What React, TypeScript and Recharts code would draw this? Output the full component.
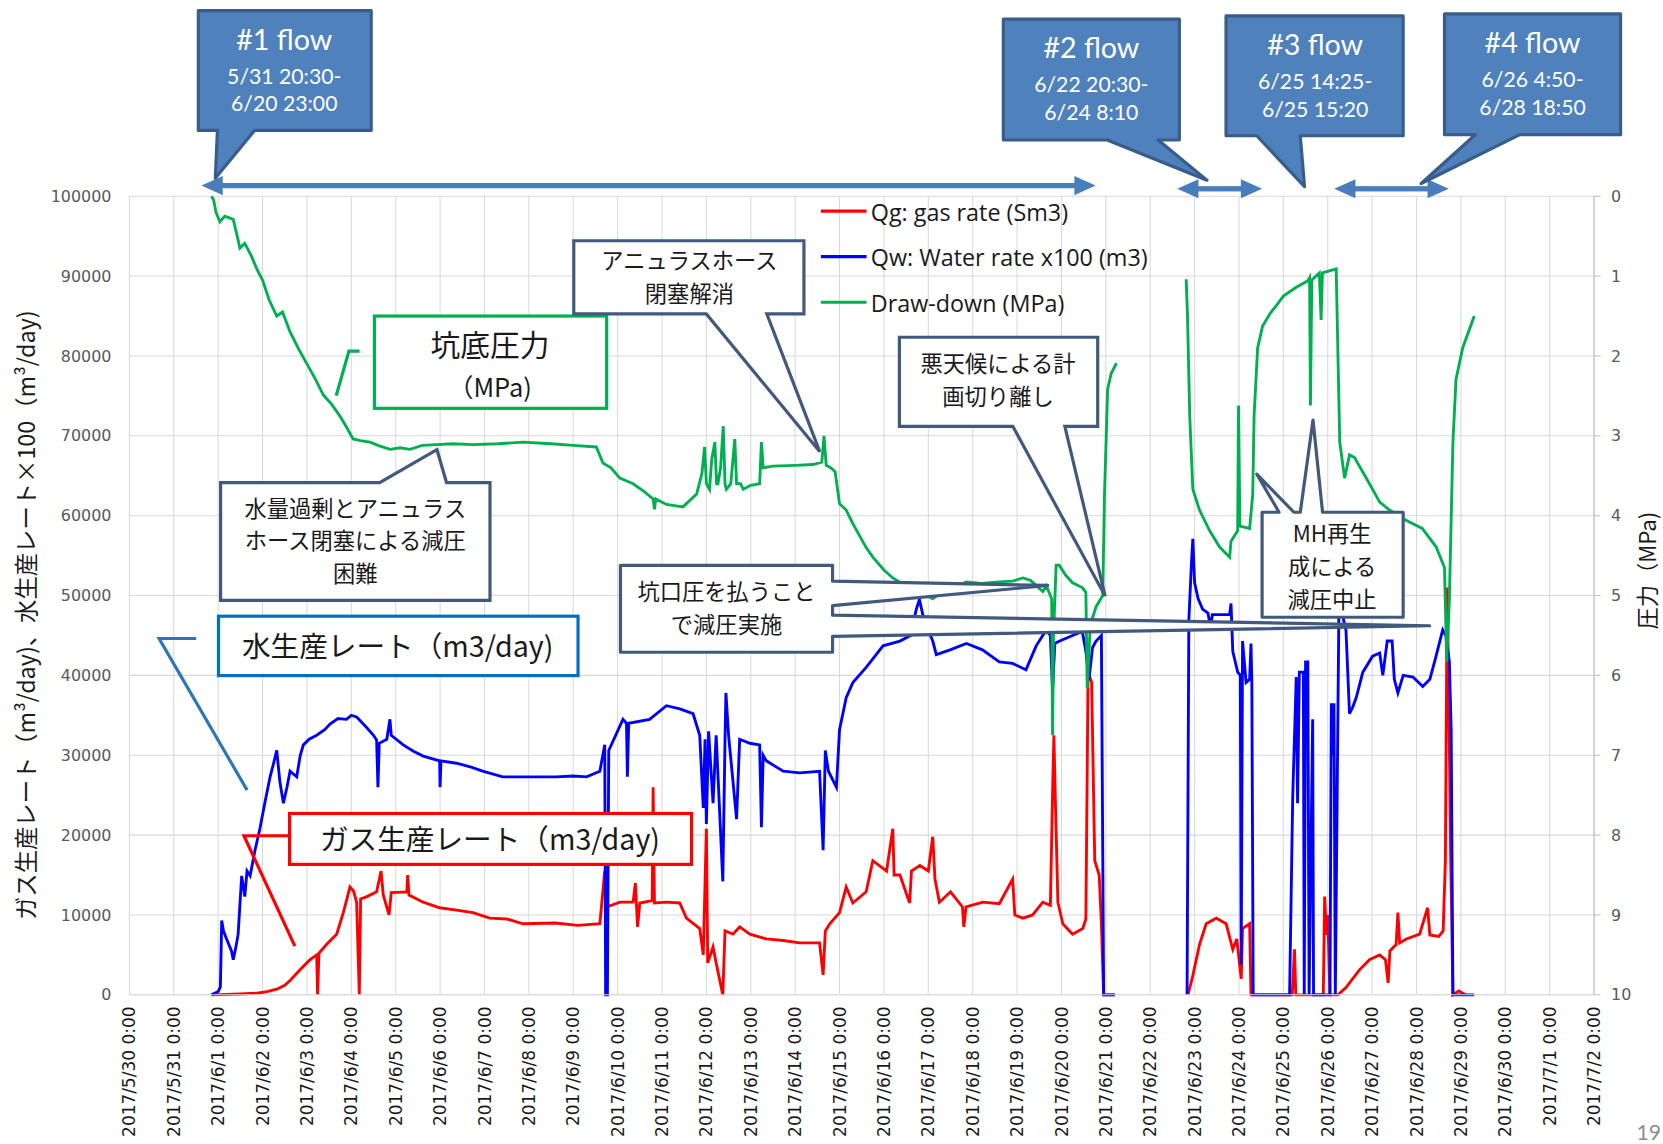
import React from 'react';
import { LineChart, Line, XAxis, YAxis, CartesianGrid, Legend } from 'recharts';

// day 0 = 2017/5/30 0:00
const dateLabels = [
  '2017/5/30 0:00', '2017/5/31 0:00', '2017/6/1 0:00', '2017/6/2 0:00', '2017/6/3 0:00',
  '2017/6/4 0:00', '2017/6/5 0:00', '2017/6/6 0:00', '2017/6/7 0:00', '2017/6/8 0:00',
  '2017/6/9 0:00', '2017/6/10 0:00', '2017/6/11 0:00', '2017/6/12 0:00', '2017/6/13 0:00',
  '2017/6/14 0:00', '2017/6/15 0:00', '2017/6/16 0:00', '2017/6/17 0:00', '2017/6/18 0:00',
  '2017/6/19 0:00', '2017/6/20 0:00', '2017/6/21 0:00', '2017/6/22 0:00', '2017/6/23 0:00',
  '2017/6/24 0:00', '2017/6/25 0:00', '2017/6/26 0:00', '2017/6/27 0:00', '2017/6/28 0:00',
  '2017/6/29 0:00', '2017/6/30 0:00', '2017/7/1 0:00', '2017/7/2 0:00',
];
const dayTicks = dateLabels.map((_, i) => i);
const rateTicks = [0, 10000, 20000, 30000, 40000, 50000, 60000, 70000, 80000, 90000, 100000];
const mpaTicks = [0, 1, 2, 3, 4, 5, 6, 7, 8, 9, 10];

// Qg: gas rate (Sm3) — [day, value]
const gasRate: [number, number | null][] = [
  [1.85, 0], [2.5, 100], [2.87, 200], [3.1, 400], [3.32, 700], [3.5, 1200], [3.62, 1800], [3.84, 3100],
  [4.07, 4400], [4.22, 5000], [4.24, 0], [4.27, 5200], [4.44, 6300], [4.67, 7600], [4.82, 10300],
  [4.97, 13500], [5.05, 13000], [5.12, 11600], [5.18, 0], [5.21, 12000], [5.35, 12300], [5.57, 12900],
  [5.67, 15500], [5.72, 12500], [5.85, 10000], [5.9, 12800], [6.25, 12900], [6.27, 15000], [6.3, 12500],
  [6.62, 11600], [6.99, 10900], [7.37, 10600], [7.74, 10300], [8.12, 9600], [8.5, 9500], [8.87, 8900],
  [9.6, 9000], [10.1, 8700], [10.6, 8900], [10.71, 15500], [10.75, 11000], [11.05, 11600], [11.35, 11600],
  [11.4, 14000], [11.45, 8500], [11.5, 11500], [11.78, 11800], [11.8, 26000], [11.83, 11500], [12.1, 11600],
  [12.4, 11500], [12.55, 9600], [12.85, 8300], [12.93, 5000], [13.0, 20800], [13.03, 4000], [13.15, 6000],
  [13.22, 4000], [13.37, 0], [13.42, 8000], [13.6, 7600], [13.75, 8500], [13.98, 7600], [14.35, 7000],
  [14.73, 6800], [15.1, 6500], [15.55, 6500], [15.63, 2500], [15.68, 8000], [15.78, 8900], [16.0, 10300],
  [16.15, 13500], [16.3, 11500], [16.6, 12900], [16.75, 16800], [17.06, 15500], [17.2, 20800], [17.23, 15000],
  [17.36, 15000], [17.58, 11500], [17.62, 15500], [17.81, 16200], [18.0, 15500], [18.1, 19800], [18.15, 14500],
  [18.25, 11600], [18.5, 12900], [18.77, 11000], [18.8, 8500], [18.85, 11000], [19.23, 11600], [19.6, 11400],
  [19.9, 14500], [19.95, 10000], [20.13, 9600], [20.35, 10000], [20.58, 11600], [20.75, 11200], [20.81, 28000],
  [20.83, 32500], [20.86, 25000], [20.92, 11600], [21.03, 8900], [21.25, 7600], [21.48, 8300], [21.55, 9500],
  [21.6, 40400], [21.68, 39100], [21.75, 16800], [21.85, 15000], [21.9, 8900], [21.95, 0], [22.2, 0],
  [22.6, null],
  [23.85, 0], [23.96, 2400], [24.11, 6300], [24.26, 8900], [24.49, 9600], [24.71, 8900], [24.86, 5700],
  [24.95, 7000], [25.05, 2000], [25.08, 8300], [25.24, 8900], [25.27, 0], [26.2, 0], [26.25, 5700],
  [26.28, 0], [26.9, 0], [26.93, 12300], [26.97, 7500], [27.0, 10000], [27.05, 0], [27.23, 0], [27.41, 900],
  [27.71, 3100], [27.94, 4400], [28.17, 5000], [28.3, 4400], [28.36, 1500], [28.4, 5500], [28.54, 6300],
  [28.58, 10300], [28.62, 6500], [28.77, 7000], [29.07, 7600], [29.25, 10900], [29.3, 7500], [29.5, 7300],
  [29.6, 8000], [29.65, 16800], [29.69, 51000], [29.72, 40400], [29.77, 17000], [29.82, 0], [29.95, 500], [30.1, 0],
];

// Qw: Water rate x100 (m3) — [day, value]
const waterRate: [number, number | null][] = [
  [1.85, 0], [2.0, 400], [2.05, 1000], [2.08, 9300], [2.12, 8000], [2.19, 7000], [2.3, 5500], [2.34, 4400],
  [2.4, 6000], [2.45, 7600], [2.53, 14900], [2.6, 12300], [2.65, 15500], [2.72, 14900], [2.83, 18100],
  [2.94, 20800], [3.05, 24000], [3.17, 27300], [3.25, 29000], [3.32, 30600], [3.39, 26700], [3.47, 24000],
  [3.55, 26000], [3.62, 28000], [3.77, 27300], [3.85, 30000], [3.92, 31300], [4.05, 32000], [4.22, 32500],
  [4.4, 33200], [4.52, 33900], [4.7, 34600], [4.89, 34500], [5.0, 35000], [5.12, 34800], [5.34, 33500],
  [5.5, 32500], [5.57, 31900], [5.6, 26000], [5.63, 31500], [5.8, 32000], [5.87, 34500], [5.9, 32500],
  [6.17, 31300], [6.4, 30500], [6.62, 29900], [6.99, 29300], [7.0, 26000], [7.02, 29300], [7.37, 29000],
  [7.7, 28500], [7.96, 28000], [8.41, 27300], [8.87, 27300], [9.3, 27300], [9.62, 27300], [10.0, 27400],
  [10.3, 27300], [10.6, 28000], [10.71, 31300], [10.73, 0], [10.77, 0], [10.8, 30600], [11.12, 34500],
  [11.2, 34000], [11.22, 27300], [11.25, 34000], [11.72, 34500], [12.1, 36200], [12.4, 35800], [12.7, 35200],
  [12.85, 32500], [12.93, 23400], [12.97, 32000], [13.0, 21400], [13.05, 33000], [13.15, 24000], [13.22, 32500],
  [13.37, 14200], [13.42, 32000], [13.44, 37800], [13.5, 32500], [13.68, 22000], [13.75, 32000], [13.98, 31500],
  [14.2, 31300], [14.24, 21000], [14.28, 30000], [14.35, 29300], [14.73, 28000], [15.1, 27800], [15.55, 28000],
  [15.63, 18100], [15.68, 30600], [15.75, 28000], [15.93, 26000], [16.0, 33200], [16.15, 37200], [16.3, 39100],
  [16.6, 41000], [16.98, 43700], [17.36, 44300], [17.6, 45000], [17.73, 48300], [17.8, 49500], [17.9, 47000],
  [18.1, 44300], [18.18, 42600], [18.49, 43200], [18.86, 44000], [19.22, 43200], [19.6, 41700], [19.9, 41500],
  [20.2, 40700], [20.43, 43700], [20.66, 45700], [20.75, 45000], [20.8, 38000], [20.85, 44000], [20.96, 44300],
  [21.25, 45000], [21.47, 45500], [21.55, 43000], [21.62, 39500], [21.7, 43500], [21.78, 44300], [21.9, 45000],
  [21.95, 0], [22.2, 0],
  [22.6, null],
  [23.83, 0], [23.87, 46900], [23.93, 54200], [23.96, 57100], [24.0, 51600], [24.08, 49600], [24.18, 48300],
  [24.3, 47800], [24.36, 46000], [24.4, 47600], [24.79, 47600], [24.82, 49000], [24.86, 43000], [24.97, 40400],
  [25.03, 40000], [25.05, 3800], [25.08, 44300], [25.16, 39100], [25.24, 39500], [25.27, 44000], [25.29, 39000],
  [25.32, 0], [26.14, 0], [26.21, 24700], [26.29, 39800], [26.32, 24000], [26.36, 40400], [26.45, 40400],
  [26.47, 0], [26.5, 41700], [26.55, 41700], [26.58, 0], [26.66, 34500], [26.68, 0], [27.05, 0], [27.08, 36500],
  [27.11, 30000], [27.14, 36500], [27.17, 0], [27.25, 47600], [27.33, 47600], [27.41, 45700], [27.49, 35200],
  [27.56, 36000], [27.64, 37200], [27.79, 40400], [28.01, 42400], [28.17, 42800], [28.24, 40000], [28.34, 44300],
  [28.45, 44300], [28.5, 39500], [28.58, 37800], [28.7, 40000], [28.92, 39800], [29.14, 38600], [29.3, 39500],
  [29.44, 42400], [29.59, 45700], [29.66, 45000], [29.74, 41700], [29.78, 33200], [29.82, 0], [30.3, 0],
];

// Draw-down (MPa) on the right axis — [day, MPa]
const drawDown: [number, number | null][] = [
  [1.85, 0.0], [1.9, 0.05], [1.95, 0.2], [2.04, 0.32], [2.15, 0.25], [2.34, 0.29], [2.45, 0.55], [2.49, 0.65],
  [2.6, 0.59], [2.75, 0.75], [2.87, 0.91], [3.0, 1.05], [3.15, 1.3], [3.32, 1.5], [3.45, 1.45], [3.62, 1.7],
  [3.8, 1.9], [3.99, 2.09], [4.2, 2.3], [4.37, 2.49], [4.55, 2.6], [4.74, 2.75], [4.9, 2.9], [5.04, 3.04],
  [5.2, 3.06], [5.42, 3.08], [5.6, 3.12], [5.87, 3.17], [6.1, 3.15], [6.32, 3.17], [6.6, 3.12], [6.92, 3.11],
  [7.3, 3.1], [7.74, 3.11], [8.3, 3.1], [8.87, 3.08], [9.5, 3.1], [10.0, 3.12], [10.52, 3.14], [10.67, 3.34],
  [10.85, 3.4], [11.05, 3.53], [11.35, 3.6], [11.6, 3.7], [11.8, 3.79], [11.83, 3.92], [11.86, 3.79],
  [12.1, 3.86], [12.47, 3.89], [12.78, 3.73], [12.9, 3.47], [12.96, 3.14], [13.0, 3.6], [13.07, 3.67],
  [13.12, 3.3], [13.19, 3.08], [13.23, 3.6], [13.26, 3.6], [13.32, 3.4], [13.38, 2.88], [13.42, 3.6],
  [13.45, 3.67], [13.55, 3.6], [13.64, 3.04], [13.68, 3.6], [13.71, 3.6], [13.77, 3.6], [13.83, 3.67],
  [14.0, 3.62], [14.2, 3.6], [14.24, 3.08], [14.28, 3.4], [14.5, 3.38], [15.0, 3.37], [15.4, 3.36],
  [15.6, 3.33], [15.65, 3.0], [15.7, 3.37], [15.8, 3.4], [15.9, 3.45], [16.0, 3.85], [16.15, 3.93],
  [16.3, 4.1], [16.45, 4.25], [16.6, 4.4], [16.75, 4.52], [17.0, 4.68], [17.2, 4.78], [17.5, 4.88],
  [17.8, 4.95], [18.1, 5.04], [18.3, 4.95], [18.5, 4.91], [18.86, 4.83], [19.2, 4.85], [19.6, 4.83],
  [19.9, 4.82], [20.13, 4.78], [20.3, 4.81], [20.58, 4.95], [20.66, 4.88], [20.78, 5.04], [20.8, 6.75],
  [20.82, 5.5], [20.88, 4.62], [20.95, 4.62], [21.1, 4.75], [21.25, 4.84], [21.47, 4.9], [21.55, 4.96],
  [21.58, 6.16], [21.65, 5.37], [21.78, 5.14], [21.93, 5.0], [21.97, 3.73], [22.04, 2.42], [22.12, 2.22],
  [22.24, 2.09],
  [22.6, null],
  [23.81, 1.04], [23.84, 1.5], [23.89, 2.75], [23.96, 3.67], [24.11, 3.93], [24.34, 4.19], [24.56, 4.39],
  [24.79, 4.52], [24.82, 4.32], [24.97, 4.19], [24.99, 2.62], [25.02, 4.13], [25.24, 4.16], [25.31, 3.73],
  [25.34, 2.75], [25.42, 1.9], [25.53, 1.63], [25.7, 1.47], [25.84, 1.37], [26.0, 1.25], [26.29, 1.14],
  [26.55, 1.06], [26.59, 1.02], [26.61, 2.62], [26.64, 1.05], [26.81, 0.96], [26.85, 1.55], [26.88, 0.96],
  [27.19, 0.91], [27.27, 3.08], [27.38, 3.53], [27.49, 3.24], [27.6, 3.27], [27.94, 3.6], [28.17, 3.83],
  [28.39, 3.93], [28.77, 4.06], [29.13, 4.16], [29.44, 4.39], [29.63, 4.65], [29.68, 5.83], [29.74, 5.04],
  [29.82, 3.08], [29.89, 2.29], [30.04, 1.9], [30.3, 1.5],
];

const toPoints = (rows: [number, number | null][]) => rows.map(([t, v]) => ({ t, v }));

const legendItems = [
  { name: 'Qg: gas rate (Sm3)', color: '#FF0000' },
  { name: 'Qw: Water rate x100 (m3)', color: '#0000FF' },
  { name: 'Draw-down (MPa)', color: '#00B050' },
];

const JP = '"Noto Sans CJK JP", sans-serif';
const BOX = '#41597C';
const FLOW_FILL = '#4F81BD';

const DateTick = (props: any) => {
  const { x, y, payload } = props;
  return (
    <text x={x} y={y} transform={`rotate(-90 ${x} ${y})`} textAnchor="end" dy="0.36em" dx={-3}
      fontSize={16} fill="#1a1a1a" fontFamily="DejaVu Sans">
      {dateLabels[payload.value]}
    </text>
  );
};

const LegendBox = () => (
  <div style={{ fontFamily: '"Open Sans", sans-serif', fontSize: 22, color: '#1a1a1a', whiteSpace: 'nowrap' }}>
    {legendItems.map((it) => (
      <div key={it.name} style={{ display: 'flex', alignItems: 'center', height: 43 }}>
        <svg width={46} height={10}><line x1={2} y1={5} x2={45} y2={5} stroke={it.color} strokeWidth={3} /></svg>
        <span style={{ marginLeft: 3 }}>{it.name}</span>
      </div>
    ))}
  </div>
);

const DoubleArrow = ({ x1, x2, y }: { x1: number; x2: number; y: number }) => (
  <g fill="#4A7EBB">
    <rect x={x1 + 15} y={y - 2.5} width={x2 - x1 - 30} height={5} />
    <polygon points={`${x1},${y} ${x1 + 20},${y - 9} ${x1 + 20},${y + 9}`} />
    <polygon points={`${x2},${y} ${x2 - 20},${y - 9} ${x2 - 20},${y + 9}`} />
  </g>
);

const FlowBox = ({ d, cx, y0, title, l1, l2 }: { d: string; cx: number; y0: number; title: string; l1: string; l2: string }) => (
  <g>
    <path d={d} fill={FLOW_FILL} stroke="#385D8A" strokeWidth={3} strokeLinejoin="round" />
    <text x={cx} y={y0 + 37} textAnchor="middle" fill="#fff" fontFamily="Lato, sans-serif" fontSize={27}>{title}</text>
    <text x={cx} y={y0 + 69} textAnchor="middle" fill="#fff" fontFamily="Lato, sans-serif" fontSize={20}>{l1}</text>
    <text x={cx} y={y0 + 95} textAnchor="middle" fill="#fff" fontFamily="Lato, sans-serif" fontSize={20}>{l2}</text>
  </g>
);

// multi-line note text
const NoteText = ({ cx, y, gap = 31, lines, size = 21 }: { cx: number; y: number; gap?: number; lines: string[]; size?: number }) => (
  <g fontFamily={JP} fontSize={size} fill="#1a1a1a" textAnchor="middle">
    {lines.map((s, i) => <text key={i} x={cx} y={y + i * gap}>{s}</text>)}
  </g>
);

export default function App() {
  return (
    <div style={{ width: 1663, height: 1144, position: 'relative', overflow: 'hidden', background: '#fff' }}>
      <style>{'body{margin:0}'}</style>
      <div style={{ position: 'absolute', left: 0, top: 0, width: 1568, height: 1079, transform: 'scale(1.06059)', transformOrigin: '0 0' }}>
        <LineChart width={1568} height={1079} margin={{ top: 185, right: 0, bottom: 0, left: 0 }}
          style={{ fontFamily: 'DejaVu Sans' }}>
          <CartesianGrid xAxisId="x" yAxisId="left" stroke="#D9D9D9" strokeWidth={1} />
          <XAxis xAxisId="x" type="number" dataKey="t" domain={[0, 33]} ticks={dayTicks} interval={0}
            allowDataOverflow height={141} tick={<DateTick />} tickLine={false} axisLine={{ stroke: '#D9D9D9' }} />
          <YAxis yAxisId="left" orientation="left" width={122} domain={[0, 100000]} ticks={rateTicks} interval={0}
            axisLine={false} tickLine={false} tickSize={0} tickMargin={17}
            tick={{ fill: '#595959', fontSize: 15, fontFamily: 'DejaVu Sans' }} />
          <YAxis yAxisId="right" orientation="right" width={65} domain={[0, 10]} ticks={mpaTicks} interval={0} reversed
            axisLine={{ stroke: '#BFBFBF' }} tickLine={{ stroke: '#BFBFBF' }} tickSize={6} tickMargin={10}
            tick={{ fill: '#595959', fontSize: 15, fontFamily: 'DejaVu Sans', textAnchor: 'start' }} />
          <Legend layout="vertical" align="center" verticalAlign="middle"
            wrapperStyle={{ left: 772, top: 177, width: 360, height: 130 }} content={() => <LegendBox />} />
          <Line data={toPoints(gasRate)} dataKey="v" name={legendItems[0].name} xAxisId="x" yAxisId="left"
            type="linear" dot={false} stroke="#FF0000" strokeWidth={2.7} isAnimationActive={false} />
          <Line data={toPoints(waterRate)} dataKey="v" name={legendItems[1].name} xAxisId="x" yAxisId="left"
            type="linear" dot={false} stroke="#0000FF" strokeWidth={2.7} isAnimationActive={false} />
          <Line data={toPoints(drawDown)} dataKey="v" name={legendItems[2].name} xAxisId="x" yAxisId="right"
            type="linear" dot={false} stroke="#00B050" strokeWidth={2.7} isAnimationActive={false} />
        </LineChart>

        <svg width={1568} height={1079} style={{ position: 'absolute', left: 0, top: 0, pointerEvents: 'none' }}>
          {/* axis titles */}
          <text transform="translate(33,580) rotate(-90)" textAnchor="middle" fontFamily={JP} fontSize={22} fill="#1a1a1a">
            ガス生産レート（m³/day)、水生産レート×100（m³/day)
          </text>
          <text transform="translate(1561,538) rotate(-90)" textAnchor="middle" fontFamily={JP} fontSize={21} fill="#1a1a1a">
            圧力（MPa)
          </text>

          {/* flow periods */}
          <DoubleArrow x1={190} x2={1033} y={175} />
          <DoubleArrow x1={1110} x2={1190} y={178} />
          <DoubleArrow x1={1258} x2={1366} y={178} />
          <FlowBox d="M187,10 H350 V123 H240 L203,168 L205,123 H187 Z" cx={268} y0={10} title="#1 flow" l1="5/31 20:30-" l2="6/20 23:00" />
          <FlowBox d="M946,18 H1112 V132 H1092 L1138,170 L1044,132 H946 Z" cx={1029} y0={18} title="#2 flow" l1="6/22 20:30-" l2="6/24 8:10" />
          <FlowBox d="M1156,15 H1323 V128 H1226 L1230,176 L1185,128 H1156 Z" cx={1240} y0={15} title="#3 flow" l1="6/25 14:25-" l2="6/25 15:20" />
          <FlowBox d="M1362,13 H1528 V127 H1433 L1340,173 L1391,127 H1362 Z" cx={1445} y0={13} title="#4 flow" l1="6/26 4:50-" l2="6/28 18:50" />

          {/* bottom-hole pressure label */}
          <polyline points="339,331 329,331 317,373" fill="none" stroke="#00B050" strokeWidth={3} />
          <rect x={353} y={298} width={219} height={87} fill="#fff" stroke="#00B050" strokeWidth={3} />
          <text x={462} y={336} textAnchor="middle" fontFamily={JP} fontSize={28} fill="#1a1a1a">坑底圧力</text>
          <text x={462} y={374} textAnchor="middle" fontFamily={JP} fontSize={24} fill="#1a1a1a">（MPa)</text>

          {/* water rate label */}
          <polyline points="185,602 150,602 233,745" fill="none" stroke="#2E75B6" strokeWidth={3} />
          <rect x={206} y={581} width={339} height={56} fill="#fff" stroke="#0070C0" strokeWidth={3} />
          <NoteText cx={375} y={619} lines={['水生産レート（m3/day)']} size={27} />

          {/* gas rate label */}
          <polyline points="273,788 230,788 278,892" fill="none" stroke="#FF0000" strokeWidth={3} />
          <rect x={273} y={767} width={379} height={48} fill="#fff" stroke="#FF0000" strokeWidth={3} />
          <NoteText cx={462} y={801} lines={['ガス生産レート（m3/day)']} size={27} />

          {/* callouts */}
          <path d="M208,455 H358 L412,424 L421,455 H462 V566 H208 Z" fill="#fff" stroke={BOX} strokeWidth={3} />
          <NoteText cx={335} y={487} lines={['水量過剰とアニュラス', 'ホース閉塞による減圧', '困難']} />

          <path d="M541,227 H758 V296 H723 L773,426 L666,296 H541 Z" fill="#fff" stroke={BOX} strokeWidth={3} />
          <NoteText cx={650} y={254} lines={['アニュラスホース', '閉塞解消']} />

          <path d="M848,318 H1035 V402 H1004 L1042,562 L955,402 H848 Z" fill="#fff" stroke={BOX} strokeWidth={3} />
          <NoteText cx={941} y={351} lines={['悪天候による計', '画切り離し']} />

          <path d="M585,533 H785 V548 L988,552 L785,571 V580 L1348,590 L785,600 V615 H585 Z" fill="#fff" stroke={BOX} strokeWidth={3} strokeLinejoin="round" />
          <NoteText cx={685} y={566} lines={['坑口圧を払うこと', 'で減圧実施']} />

          <path d="M1190,483 H1206 L1185,447 L1220,483 H1226 L1238,396 L1247,483 H1323 V582 H1190 Z" fill="#fff" stroke={BOX} strokeWidth={3} strokeLinejoin="round" />
          <NoteText cx={1256} y={511} lines={['MH再生', '成による', '減圧中止']} />

          <text x={1543} y={1075} fontFamily="Lato, sans-serif" fontSize={20} fill="#8c8c8c">19</text>
        </svg>
      </div>
    </div>
  );
}
